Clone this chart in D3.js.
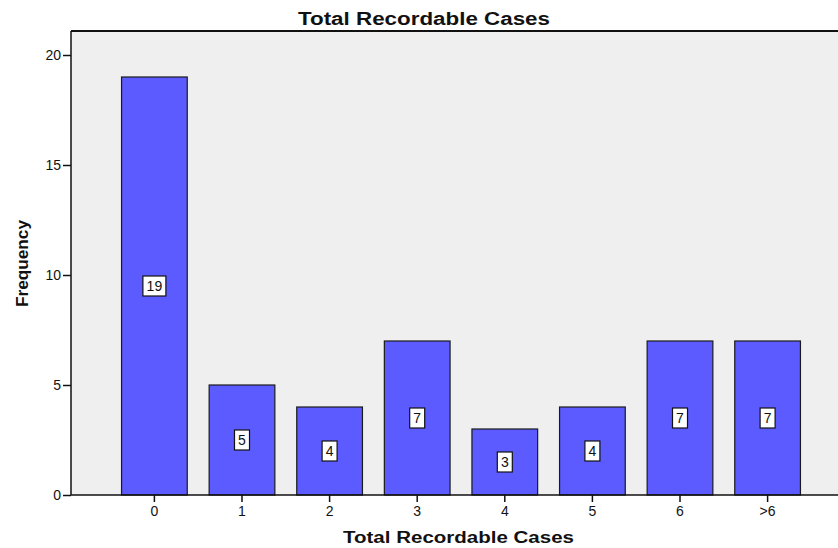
<!DOCTYPE html>
<html>
<head>
<meta charset="utf-8">
<script src="https://cdn.jsdelivr.net/npm/d3@7"></script>
<style>
  html, body { margin: 0; padding: 0; background: #ffffff; }
  svg { display: block; font-family: "Liberation Sans", Arial, sans-serif; }
</style>
</head>
<body>
<svg id="chart" width="838" height="548"></svg>
<script>
// Frequency of total recordable cases
const categories = ["0", "1", "2", "3", "4", "5", "6", ">6"];
const frequencies = [19, 5, 4, 7, 3, 4, 7, 7];
const yTicks = [0, 5, 10, 15, 20];

const svg = d3.select("#chart");
const plot = { left: 71, right: 851, top: 31, bottom: 495 };

const x = d3.scaleBand()
  .domain(categories)
  .range([plot.left, plot.right])
  .paddingInner(0.25)
  .paddingOuter(0.577);

const y = d3.scaleLinear()
  .domain([0, 20])
  .range([plot.bottom, plot.bottom - 440]);

// plot background
svg.append("rect")
  .attr("x", plot.left).attr("y", plot.top)
  .attr("width", plot.right - plot.left).attr("height", plot.bottom - plot.top)
  .attr("fill", "#efefef");

// bars
svg.append("g").selectAll("rect")
  .data(frequencies)
  .join("rect")
  .attr("x", (d, i) => x(categories[i]))
  .attr("y", d => y(d))
  .attr("width", x.bandwidth())
  .attr("height", d => y(0) - y(d))
  .attr("fill", "#5b5bff")
  .attr("stroke", "#1a1a1a")
  .attr("stroke-width", 1.2);

// value labels in boxes at bar mid-height
const labels = svg.append("g").selectAll("g")
  .data(frequencies)
  .join("g")
  .attr("transform", (d, i) => `translate(${x(categories[i]) + x.bandwidth() / 2},${y(d / 2)})`);

labels.append("rect")
  .attr("x", d => String(d).length > 1 ? -11.5 : -7.5)
  .attr("y", -10)
  .attr("width", d => String(d).length > 1 ? 23 : 15)
  .attr("height", 20)
  .attr("fill", "#ffffff")
  .attr("stroke", "#111")
  .attr("stroke-width", 1.2);

labels.append("text")
  .attr("text-anchor", "middle")
  .attr("y", 5)
  .attr("font-size", 14)
  .attr("fill", "#111")
  .text(d => d);

// frame: top border
svg.append("line")
  .attr("x1", plot.left).attr("x2", plot.right)
  .attr("y1", plot.top).attr("y2", plot.top)
  .attr("stroke", "#111").attr("stroke-width", 2);

// y axis
const yAxis = svg.append("g")
  .attr("transform", `translate(${plot.left},0)`)
  .call(d3.axisLeft(y).tickValues(yTicks).tickSize(8).tickPadding(2).tickSizeOuter(0));
yAxis.select(".domain").attr("d", `M0,${plot.top}V${plot.bottom}`).attr("stroke", "#111").attr("stroke-width", 1.5);
yAxis.selectAll(".tick line").attr("stroke", "#111").attr("stroke-width", 1.5);
yAxis.selectAll(".tick text")
  .attr("font-size", 14).attr("fill", "#111")
  .attr("font-family", "Liberation Sans, Arial, sans-serif");

// x axis
const xAxis = svg.append("g")
  .attr("transform", `translate(0,${plot.bottom})`)
  .call(d3.axisBottom(x).tickSize(7).tickPadding(4).tickSizeOuter(0));
xAxis.select(".domain").attr("d", `M${plot.left},0H${plot.right}`).attr("stroke", "#111").attr("stroke-width", 1.5);
xAxis.selectAll(".tick line").attr("stroke", "#111").attr("stroke-width", 1.5);
xAxis.selectAll(".tick text")
  .attr("font-size", 14).attr("fill", "#111")
  .attr("font-family", "Liberation Sans, Arial, sans-serif");

// titles
svg.append("text")
  .attr("x", 424).attr("y", 25)
  .attr("text-anchor", "middle")
  .attr("font-size", 17.5).attr("font-weight", "bold").attr("fill", "#111")
  .attr("textLength", 252).attr("lengthAdjust", "spacingAndGlyphs")
  .text("Total Recordable Cases");

svg.append("text")
  .attr("x", 458.5).attr("y", 543)
  .attr("text-anchor", "middle")
  .attr("font-size", 15.8).attr("font-weight", "bold").attr("fill", "#111")
  .attr("textLength", 231).attr("lengthAdjust", "spacingAndGlyphs")
  .text("Total Recordable Cases");

svg.append("text")
  .attr("transform", "translate(28,263.5) rotate(-90)")
  .attr("text-anchor", "middle")
  .attr("font-size", 16.5).attr("font-weight", "bold").attr("fill", "#111")
  .attr("textLength", 87).attr("lengthAdjust", "spacingAndGlyphs")
  .text("Frequency");
</script>
</body>
</html>
